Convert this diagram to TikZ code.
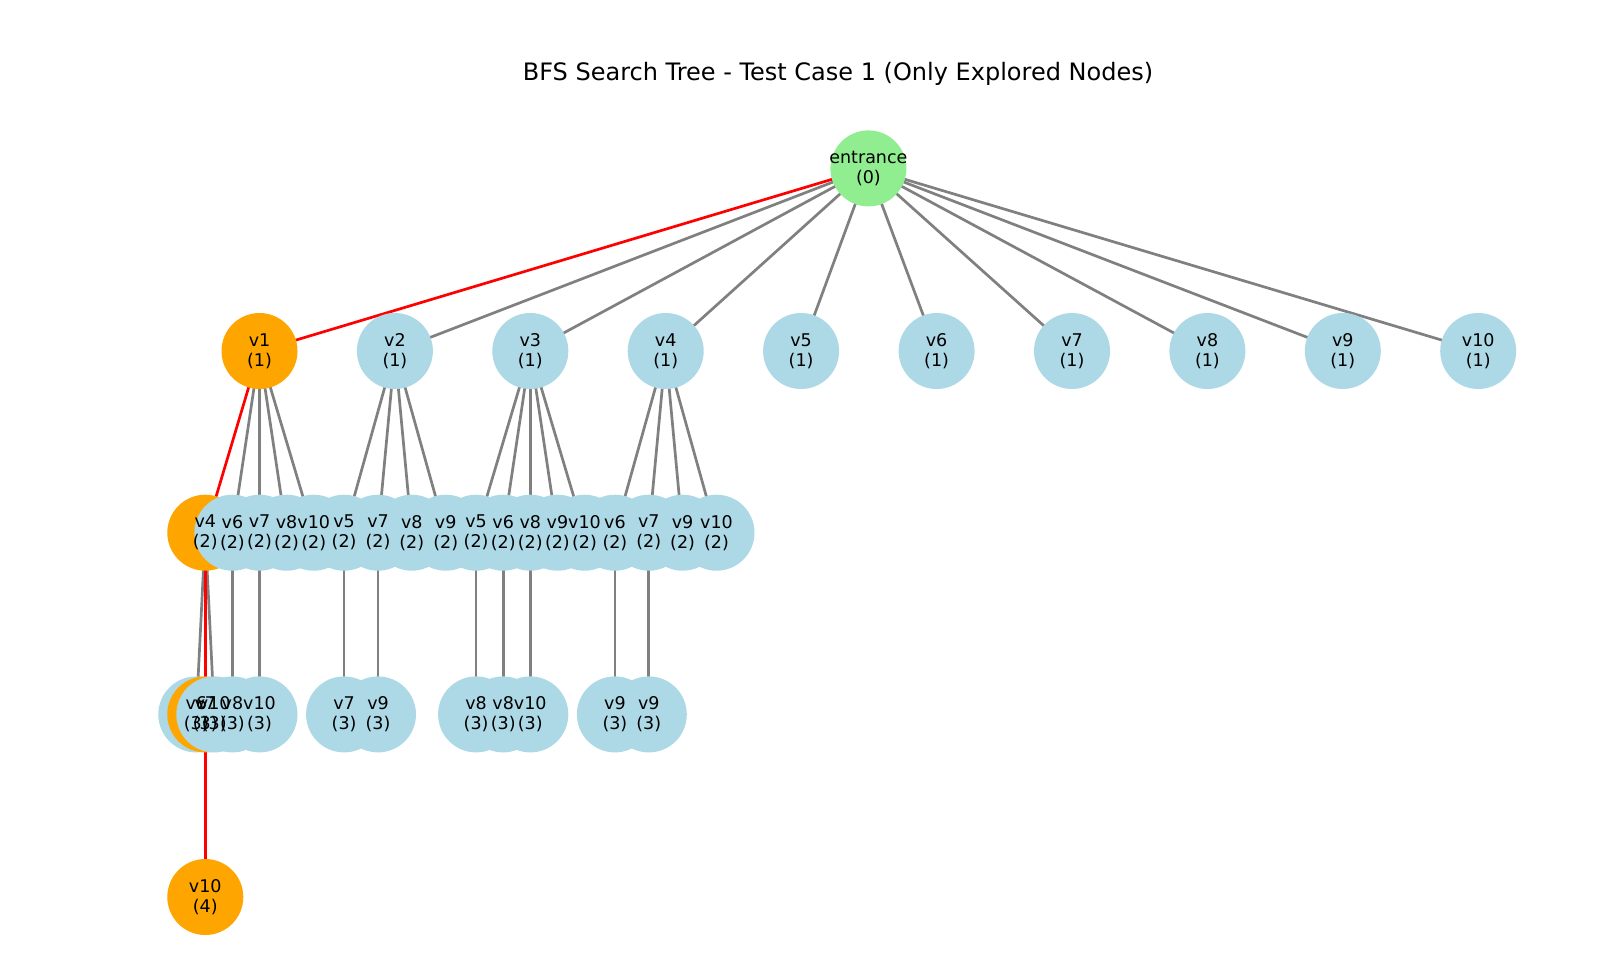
\documentclass[tikz,border=0pt]{standalone}
\usepackage{fontspec}
\setmainfont{DejaVu Sans}
\definecolor{lblue}{HTML}{ADD8E6}
\definecolor{lorange}{HTML}{FFA500}
\definecolor{lgreen}{HTML}{90EE90}
\definecolor{egray}{HTML}{808080}
\pgfdeclarelayer{bg}
\pgfdeclarelayer{edges}
\pgfdeclarelayer{labels}
\pgfsetlayers{bg,edges,main,labels}
\tikzset{
  bnode/.style={circle,fill=lblue,draw=none,minimum size=76pt,inner sep=0pt},
  onode/.style={bnode,fill=lorange},
  gnode/.style={bnode,fill=lgreen},
  lab/.style={align=center,inner sep=0pt,font=\fontsize{17.5}{20}\selectfont},
  ge/.style={draw=egray,line width=2.7pt},
  re/.style={draw=red,line width=2.7pt},
}
\newcommand\tn[5]{\node[#4] (#1) at (#2,#3) {};
  \begin{pgfonlayer}{labels}\node[lab] at (#1) {#5};\end{pgfonlayer}}
\begin{document}
\begin{tikzpicture}[x=1pt,y=-1pt]
\useasboundingbox (0,0) rectangle (1600,972);
\begin{pgfonlayer}{bg}
\fill[white] (0,0) rectangle (1600,972);
\end{pgfonlayer}
\node[font=\fontsize{24}{28}\selectfont] (title) at (838,73.5) {BFS Search Tree - Test Case 1 (Only Explored Nodes)};
% level 0
\tn{e}{868.4}{168.4}{gnode}{entrance\\(0)}
% level 1
\tn{a1}{259.5}{351}{onode}{v1\\(1)}
\tn{a2}{394.9}{351}{bnode}{v2\\(1)}
\tn{a3}{530.3}{351}{bnode}{v3\\(1)}
\tn{a4}{665.7}{351}{bnode}{v4\\(1)}
\tn{a5}{801.1}{351}{bnode}{v5\\(1)}
\tn{a6}{936.6}{351}{bnode}{v6\\(1)}
\tn{a7}{1072.0}{351}{bnode}{v7\\(1)}
\tn{a8}{1207.4}{351}{bnode}{v8\\(1)}
\tn{a9}{1342.8}{351}{bnode}{v9\\(1)}
\tn{a10}{1478.2}{351}{bnode}{v10\\(1)}
% level 2
\tn{b1}{205.3}{532.7}{onode}{v4\\(2)}
\tn{b2}{232.4}{532.7}{bnode}{v6\\(2)}
\tn{b3}{259.5}{532.7}{bnode}{v7\\(2)}
\tn{b4}{286.6}{532.7}{bnode}{v8\\(2)}
\tn{b5}{313.7}{532.7}{bnode}{v10\\(2)}
\tn{b6}{344.1}{532.7}{bnode}{v5\\(2)}
\tn{b7}{378.0}{532.7}{bnode}{v7\\(2)}
\tn{b8}{411.8}{532.7}{bnode}{v8\\(2)}
\tn{b9}{445.7}{532.7}{bnode}{v9\\(2)}
\tn{b10}{476.1}{532.7}{bnode}{v5\\(2)}
\tn{b11}{503.2}{532.7}{bnode}{v6\\(2)}
\tn{b12}{530.3}{532.7}{bnode}{v8\\(2)}
\tn{b13}{557.4}{532.7}{bnode}{v9\\(2)}
\tn{b14}{584.5}{532.7}{bnode}{v10\\(2)}
\tn{b15}{614.9}{532.7}{bnode}{v6\\(2)}
\tn{b16}{648.8}{532.7}{bnode}{v7\\(2)}
\tn{b17}{682.6}{532.7}{bnode}{v9\\(2)}
\tn{b18}{716.5}{532.7}{bnode}{v10\\(2)}
% level 3
\tn{c1}{196.3}{714.4}{bnode}{v6\\(3)}
\tn{c2}{205.3}{714.4}{onode}{v7\\(3)}
\tn{c3}{214.3}{714.4}{bnode}{v10\\(3)}
\tn{c4}{232.4}{714.4}{bnode}{v8\\(3)}
\tn{c5}{259.5}{714.4}{bnode}{v10\\(3)}
\tn{c6}{344.1}{714.4}{bnode}{v7\\(3)}
\tn{c7}{378.0}{714.4}{bnode}{v9\\(3)}
\tn{c8}{476.1}{714.4}{bnode}{v8\\(3)}
\tn{c9}{503.2}{714.4}{bnode}{v8\\(3)}
\tn{c10}{530.3}{714.4}{bnode}{v10\\(3)}
\tn{c11}{614.9}{714.4}{bnode}{v9\\(3)}
\tn{c12}{648.8}{714.4}{bnode}{v9\\(3)}
% level 4
\tn{d1}{205.3}{897}{onode}{v10\\(4)}
\begin{pgfonlayer}{edges}
\foreach \t in {a2,a3,a4,a5,a6,a7,a8,a9,a10} \draw[ge] (e.center) -- (\t.center);
\foreach \t in {b2,b3,b4,b5} \draw[ge] (a1.center) -- (\t.center);
\foreach \t in {b6,b7,b8,b9} \draw[ge] (a2.center) -- (\t.center);
\foreach \t in {b10,b11,b12,b13,b14} \draw[ge] (a3.center) -- (\t.center);
\foreach \t in {b15,b16,b17,b18} \draw[ge] (a4.center) -- (\t.center);
\draw[ge] (b1.center) -- (c1.center);
\draw[ge] (b1.center) -- (c3.center);
\draw[ge] (b2.center) -- (c4.center);
\draw[ge] (b3.center) -- (c5.center);
\draw[ge] (b6.center) -- (c6.center);
\draw[ge] (b7.center) -- (c7.center);
\draw[ge] (b10.center) -- (c8.center);
\draw[ge] (b11.center) -- (c9.center);
\draw[ge] (b12.center) -- (c10.center);
\draw[ge] (b15.center) -- (c11.center);
\draw[ge] (b16.center) -- (c12.center);
\draw[re] (e.center) -- (a1.center);
\draw[re] (a1.center) -- (b1.center);
\draw[re] (b1.center) -- (c2.center);
\draw[re] (c2.center) -- (d1.center);
\end{pgfonlayer}
\end{tikzpicture}
\end{document}
